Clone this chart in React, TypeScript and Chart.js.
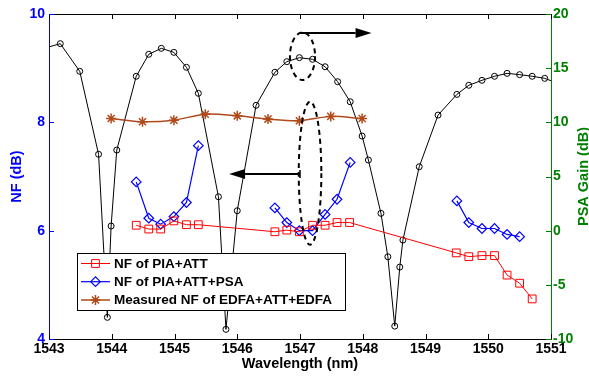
import React, { useEffect, useRef } from 'react';
import { Chart, registerables } from 'chart.js';
import { drawPoint } from 'chart.js/helpers';

Chart.register(...registerables);

// ---------------- data ----------------
const gainWavelength = [
  1542.9, 1543.18, 1543.49, 1543.79, 1543.93, 1543.99, 1544.08, 1544.39, 1544.59, 1544.79,
  1544.99, 1545.19, 1545.38, 1545.7, 1545.82, 1546.0, 1546.3, 1546.6, 1546.79, 1546.99,
  1547.2, 1547.4, 1547.6, 1547.8, 1547.99, 1548.09, 1548.29, 1548.4, 1548.51, 1548.59,
  1548.64, 1548.9, 1549.2, 1549.5, 1549.69, 1549.9, 1550.1, 1550.3, 1550.5, 1550.7,
  1550.9, 1551.1,
];
const psaGain = [
  16.8, 17.26, 14.71, 7.05, -8.0, 0.43, 7.44, 14.25, 16.28, 16.83,
  16.46, 15.08, 12.68, 3.13, -9.11, 1.84, 11.57, 14.62, 15.6, 15.97,
  15.82, 15.13, 13.75, 11.9, 8.73, 6.52, 1.6, -2.41, -8.81, -3.36,
  -0.87, 5.9, 10.67, 12.58, 13.42, 13.88, 14.25, 14.52, 14.4, 14.25,
  14.06, 13.62,
];

const piaAttWavelength = [
  1544.39, 1544.59, 1544.78, 1544.99, 1545.19, 1545.38, 1546.6, 1546.79, 1546.99, 1547.2,
  1547.4, 1547.59, 1547.79, 1549.49, 1549.69, 1549.9, 1550.1, 1550.3, 1550.5, 1550.7,
];
const piaAttNF = [
  6.1, 6.03, 6.03, 6.18, 6.11, 6.11, 5.98, 6.01, 5.98, 6.1,
  6.1, 6.15, 6.15, 5.59, 5.52, 5.54, 5.54, 5.18, 5.03, 4.74,
];

const psaWavelength1 = [1544.39, 1544.59, 1544.78, 1544.99, 1545.19, 1545.38];
const psaNF1 = [6.9, 6.23, 6.12, 6.26, 6.52, 7.57];
const psaWavelength2 = [1546.6, 1546.79, 1546.99, 1547.2, 1547.4, 1547.59, 1547.8];
const psaNF2 = [6.42, 6.15, 6.0, 6.0, 6.3, 6.58, 7.26];
const psaWavelength3 = [1549.5, 1549.69, 1549.9, 1550.1, 1550.3, 1550.5];
const psaNF3 = [6.55, 6.15, 6.04, 6.04, 5.93, 5.89];

const edfaWavelength = [1543.99, 1544.49, 1544.99, 1545.49, 1546.0, 1546.49, 1546.99, 1547.49, 1547.99];
const edfaNF = [8.07, 8.01, 8.04, 8.15, 8.12, 8.06, 8.03, 8.11, 8.07];

const xTickValues = [1543, 1544, 1545, 1546, 1547, 1548, 1549, 1550, 1551];
const nfTickValues = [4, 6, 8, 10];
const gainTickValues = [-10, -5, 0, 5, 10, 15, 20];

const legendLabels = ['NF of PIA+ATT', 'NF of PIA+ATT+PSA', 'Measured NF of EDFA+ATT+EDFA'];
const xTitle = 'Wavelength (nm)';
const nfTitle = 'NF (dB)';
const gainTitle = 'PSA Gain (dB)';

// ---------------- styles ----------------
const W = 589;
const H = 378;
const FONT = '"Liberation Sans", Arial, Helvetica, sans-serif';
const BLUE = '#0000ff';
const RED = '#ff0000';
const GREEN = '#008000';
const BROWN = '#b04a1a';

const pts = (xs: number[], ys: number[]) => xs.map((x, i) => ({ x, y: ys[i] }));
const gap = (x: number) => ({ x, y: null as any });

const annotationPlugin = {
  id: 'annotations',
  afterDatasetsDraw(chart: any) {
    const { ctx, scales } = chart;
    const xs = scales.x;
    const ys = scales.y;
    const gs = scales.y2;
    ctx.save();
    // dashed ellipses (given in data units)
    const ellipse = (cx: number, cy: number, rx: number, ry: number) => {
      ctx.save();
      ctx.setLineDash([5, 4]);
      ctx.lineWidth = 2;
      ctx.strokeStyle = '#000';
      ctx.beginPath();
      ctx.ellipse(cx, cy, rx, ry, 0, 0, Math.PI * 2);
      ctx.stroke();
      ctx.restore();
    };
    const ux = xs.getPixelForValue(1547.04);
    const uy = gs.getPixelForValue(16.1);
    ellipse(ux, uy, xs.getPixelForValue(1547.04 + 0.2) - ux, gs.getPixelForValue(16.1 - 2.19) - uy);
    const lx = xs.getPixelForValue(1547.16);
    const ly = ys.getPixelForValue(7.06);
    ellipse(lx, ly, xs.getPixelForValue(1547.16 + 0.18) - lx, ys.getPixelForValue(7.06 - 1.32) - ly);

    const arrow = (x0: number, x1: number, y: number) => {
      const dir = Math.sign(x1 - x0);
      const head = 16;
      ctx.save();
      ctx.setLineDash([]);
      ctx.strokeStyle = '#000';
      ctx.fillStyle = '#000';
      ctx.lineWidth = 2;
      ctx.beginPath();
      ctx.moveTo(x0, y);
      ctx.lineTo(x1 - dir * head, y);
      ctx.stroke();
      ctx.beginPath();
      ctx.moveTo(x1, y);
      ctx.lineTo(x1 - dir * head, y - 5);
      ctx.lineTo(x1 - dir * head, y + 5);
      ctx.closePath();
      ctx.fill();
      ctx.restore();
    };
    arrow(xs.getPixelForValue(1547.0), xs.getPixelForValue(1548.14), Math.round(gs.getPixelForValue(18.27)));
    arrow(xs.getPixelForValue(1547.0), xs.getPixelForValue(1545.87), Math.round(ys.getPixelForValue(7.05)));
    const tickX = xs.getPixelForValue(1547.0);
    const tickY = Math.round(ys.getPixelForValue(7.05));
    ctx.strokeStyle = '#000';
    ctx.lineWidth = 1.5;
    ctx.beginPath();
    ctx.moveTo(tickX, tickY - 4);
    ctx.lineTo(tickX, tickY + 4);
    ctx.stroke();

    // legend box
    const bx = 77.5, by = 253.5, bw = 268, bh = 57;
    ctx.fillStyle = '#fff';
    ctx.fillRect(bx, by, bw, bh);
    ctx.strokeStyle = '#000';
    ctx.lineWidth = 1;
    ctx.strokeRect(bx, by, bw, bh);
    const rowsY = [263.5, 281.7, 300];
    const ds = chart.data.datasets;
    for (let i = 0; i < 3; i++) {
      const d = ds[i];
      const y = rowsY[i];
      ctx.strokeStyle = d.borderColor;
      ctx.lineWidth = d.borderWidth;
      ctx.beginPath();
      ctx.moveTo(81, y);
      ctx.lineTo(110, y);
      ctx.stroke();
      ctx.lineWidth = d.pointBorderWidth;
      ctx.strokeStyle = d.pointBorderColor;
      ctx.fillStyle = 'rgba(0,0,0,0)';
      drawPoint(ctx, { pointStyle: d.pointStyle, radius: d.pointRadius, rotation: 0, borderWidth: d.pointBorderWidth }, 95.5, y);
      ctx.fillStyle = '#000';
      ctx.font = `bold 13.5px ${FONT}`;
      ctx.textAlign = 'left';
      ctx.textBaseline = 'middle';
      ctx.fillText(legendLabels[i], 114, y + 0.5);
    }
    ctx.restore();
  },
  afterDraw(chart: any) {
    const { ctx, scales, chartArea } = chart;
    const { left, right, top, bottom } = chartArea;
    ctx.save();
    ctx.lineWidth = 1;
    // top frame line
    ctx.strokeStyle = '#000';
    ctx.beginPath();
    ctx.moveTo(left, top + 0.5);
    ctx.lineTo(right, top + 0.5);
    ctx.stroke();
    // x ticks (bottom and top), inward
    ctx.beginPath();
    for (const v of xTickValues) {
      const px = Math.round(scales.x.getPixelForValue(v)) + 0.5;
      ctx.moveTo(px, bottom);
      ctx.lineTo(px, bottom - 5);
      ctx.moveTo(px, top);
      ctx.lineTo(px, top + 5);
    }
    ctx.stroke();
    // left ticks
    ctx.strokeStyle = BLUE;
    ctx.beginPath();
    for (const v of nfTickValues) {
      const py = Math.round(scales.y.getPixelForValue(v)) + 0.5;
      ctx.moveTo(left, py);
      ctx.lineTo(left + 5, py);
    }
    ctx.stroke();
    // right ticks
    ctx.strokeStyle = GREEN;
    ctx.beginPath();
    for (const v of gainTickValues) {
      const py = Math.round(scales.y2.getPixelForValue(v)) + 0.5;
      ctx.moveTo(right, py);
      ctx.lineTo(right - 5, py);
    }
    ctx.stroke();

    // axis titles
    ctx.font = `bold 14.5px ${FONT}`;
    ctx.textAlign = 'center';
    ctx.textBaseline = 'middle';
    const midY = (top + bottom) / 2;
    ctx.fillStyle = '#000';
    ctx.fillText(xTitle, (left + right) / 2, 364);
    ctx.save();
    ctx.translate(17, midY);
    ctx.rotate(-Math.PI / 2);
    ctx.fillStyle = BLUE;
    ctx.fillText(nfTitle, 0, 0);
    ctx.restore();
    ctx.save();
    ctx.translate(583.5, midY);
    ctx.rotate(-Math.PI / 2);
    ctx.fillStyle = GREEN;
    ctx.fillText(gainTitle, 0, 0);
    ctx.restore();
    ctx.restore();
  },
};

export default function App() {
  const ref = useRef<HTMLCanvasElement>(null);
  useEffect(() => {
    document.body.style.margin = '0';
    const canvas = ref.current!;
    const tickFont = { family: FONT, size: 14, weight: 'bold' as const };
    const chart = new Chart(canvas, {
      type: 'line',
      data: {
        datasets: [
          {
            label: legendLabels[0],
            data: pts(piaAttWavelength, piaAttNF),
            yAxisID: 'y',
            borderColor: RED,
            borderWidth: 1,
            pointStyle: 'rect',
            pointRadius: 5.5,
            pointBorderColor: RED,
            pointBorderWidth: 1,
            pointBackgroundColor: 'rgba(0,0,0,0)',
            tension: 0,
          },
          {
            label: legendLabels[1],
            data: [
              ...pts(psaWavelength1, psaNF1),
              gap(1546.0),
              ...pts(psaWavelength2, psaNF2),
              gap(1548.6),
              ...pts(psaWavelength3, psaNF3),
            ],
            yAxisID: 'y',
            spanGaps: false,
            borderColor: BLUE,
            borderWidth: 1.2,
            pointStyle: 'rectRot',
            pointRadius: 4.8,
            pointBorderColor: BLUE,
            pointBorderWidth: 1.2,
            pointBackgroundColor: 'rgba(0,0,0,0)',
            tension: 0,
          },
          {
            label: legendLabels[2],
            data: pts(edfaWavelength, edfaNF),
            yAxisID: 'y',
            borderColor: BROWN,
            borderWidth: 1.5,
            pointStyle: 'star',
            pointRadius: 5,
            pointBorderColor: BROWN,
            pointBorderWidth: 1.5,
            pointBackgroundColor: BROWN,
            tension: 0.3,
          },
          {
            label: 'PSA gain',
            data: pts(gainWavelength, psaGain),
            yAxisID: 'y2',
            borderColor: '#000',
            borderWidth: 1,
            pointStyle: 'circle',
            pointRadius: 3,
            pointBorderColor: '#000',
            pointBorderWidth: 1,
            pointBackgroundColor: 'rgba(0,0,0,0)',
            tension: 0,
          },
        ],
      },
      options: {
        responsive: false,
        animation: false,
        devicePixelRatio: 1,
        layout: { padding: { top: 14, left: 0, right: 0, bottom: 0 } },
        plugins: { legend: { display: false }, tooltip: { enabled: false } },
        scales: {
          x: {
            type: 'linear',
            min: 1543,
            max: 1551,
            afterFit: (s: any) => { s.height = 39; },
            afterBuildTicks: (s: any) => { s.ticks = xTickValues.map((v) => ({ value: v })); },
            ticks: { font: tickFont, color: '#000', padding: 2, maxRotation: 0, autoSkip: false, callback: (v: any) => String(v) },
            grid: { display: false, drawTicks: false },
            border: { display: true, color: '#000', width: 1 },
          },
          y: {
            type: 'linear',
            position: 'left',
            min: 4,
            max: 10,
            afterFit: (s: any) => { s.width = 49; },
            afterBuildTicks: (s: any) => { s.ticks = nfTickValues.map((v) => ({ value: v })); },
            ticks: { font: tickFont, color: BLUE, padding: 4, autoSkip: false },
            grid: { display: false, drawTicks: false },
            border: { display: true, color: BLUE, width: 1 },
          },
          y2: {
            type: 'linear',
            position: 'right',
            min: -10,
            max: 20,
            afterFit: (s: any) => { s.width = 38; },
            afterBuildTicks: (s: any) => { s.ticks = gainTickValues.map((v) => ({ value: v })); },
            ticks: { font: tickFont, color: GREEN, padding: 2, autoSkip: false },
            grid: { display: false, drawTicks: false },
            border: { display: true, color: GREEN, width: 1 },
          },
        },
      },
      plugins: [annotationPlugin],
    } as any);
    return () => chart.destroy();
  }, []);
  return (
    <div style={{ width: W, height: H, position: 'relative', background: '#fff' }}>
      <canvas ref={ref} width={W} height={H} style={{ width: W, height: H, display: 'block' }} />
    </div>
  );
}
